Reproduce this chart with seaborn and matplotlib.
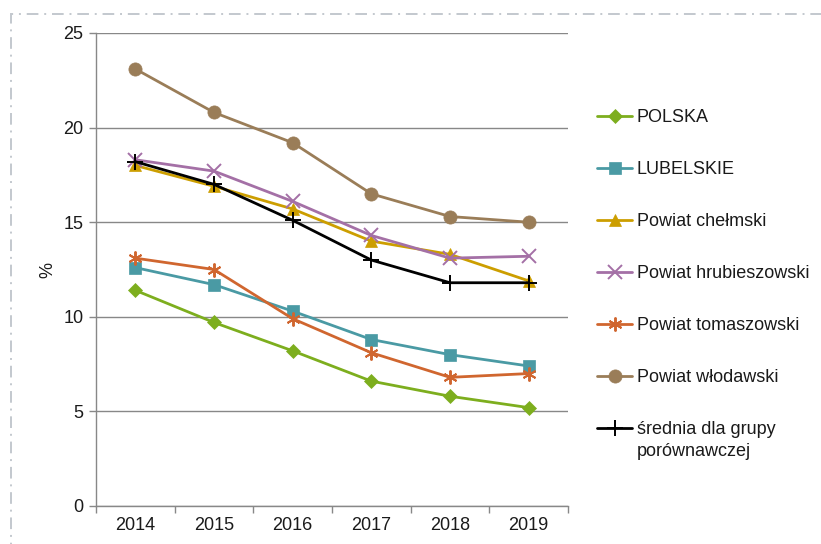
import matplotlib
matplotlib.use("Agg")
import matplotlib.pyplot as plt
import matplotlib.patches as mpatches
import seaborn as sns
import pandas as pd

# data
years = [2014, 2015, 2016, 2017, 2018, 2019]
polska = [11.4, 9.7, 8.2, 6.6, 5.8, 5.2]
lubelskie = [12.6, 11.7, 10.3, 8.8, 8.0, 7.4]
chelmski = [18.0, 16.9, 15.7, 14.0, 13.3, 11.9]
hrubieszowski = [18.3, 17.7, 16.1, 14.3, 13.1, 13.2]
tomaszowski = [13.1, 12.5, 9.9, 8.1, 6.8, 7.0]
wlodawski = [23.1, 20.8, 19.2, 16.5, 15.3, 15.0]
srednia = [18.2, 17.0, 15.1, 13.0, 11.8, 11.8]

labels = ["POLSKA", "LUBELSKIE", "Powiat chełmski", "Powiat hrubieszowski",
          "Powiat tomaszowski", "Powiat włodawski", "średnia dla grupy"]
label_cont = "porównawczej"   # second line of the last legend entry
series = [polska, lubelskie, chelmski, hrubieszowski, tomaszowski, wlodawski, srednia]

# styles
colors = ["#7DAE1E", "#4A9AA4", "#CC9E00", "#A470A6", "#D0662F", "#9A7D58", "#000000"]
markers = ["D", "s", "^", "x", (6, 2, 0), "o", "+"]
msizes = [7, 8.5, 9, 10, 10, 9.5, 11]

sns.set_theme(style="white")
plt.rcParams["font.family"] = ["Liberation Sans", "DejaVu Sans"]
FS = 13
TXT = "#1a1a1a"

fig = plt.figure(figsize=(8.21, 5.44), dpi=100)
ax = fig.add_axes([96 / 821, 1 - 506 / 544, (568 - 96) / 821, (506 - 33) / 544])

for lab, vals, c, m, ms in zip(labels, series, colors, markers, msizes):
    df = pd.DataFrame({"year": years, "value": vals})
    thin = m in ("x", "+") or isinstance(m, tuple)
    sns.lineplot(data=df, x="year", y="value", ax=ax, color=c, marker=m,
                 markersize=ms, linewidth=2.0, markeredgecolor=c,
                 markeredgewidth=1.4 if thin else 0.5,
                 label=lab, legend=False)

ax.set_xlim(years[0] - 0.5, years[-1] + 0.5)
ax.set_ylim(0, 25)
ax.set_yticks(range(0, 26, 5))
ax.set_xticks([y + 0.5 for y in [years[0] - 1] + years])
ax.set_xticklabels([])
ax.set_xticks(years, minor=True)
ax.set_xticklabels([str(y) for y in years], minor=True)
ax.tick_params(axis="x", which="major", length=5, width=1, color="#888888",
               direction="out", bottom=True)
ax.tick_params(axis="x", which="minor", length=0, labelsize=FS, pad=8, labelcolor=TXT)
ax.tick_params(axis="y", length=5, width=1, color="#888888", direction="out", left=True,
               labelsize=FS, pad=4, labelcolor=TXT)
ax.grid(axis="y", color="#888888", linewidth=1)
ax.grid(axis="x", visible=False)
ax.set_axisbelow(True)
for s in ["top", "right"]:
    ax.spines[s].set_visible(False)
for s in ["left", "bottom"]:
    ax.spines[s].set_color("#888888")
    ax.spines[s].set_linewidth(1)
ax.set_xlabel("")
ax.set_ylabel("%", fontsize=FS, color=TXT, labelpad=5)

handles, labs = ax.get_legend_handles_labels()
leg = fig.legend(handles, labs, loc="upper left", bbox_to_anchor=(590 / 821, 1 - 102 / 544),
                 frameon=False, fontsize=FS, labelspacing=1.94, handlelength=1.95,
                 handletextpad=0.25, borderaxespad=0, labelcolor=TXT)

# second line of the last legend label, placed right under the first one
fig.canvas.draw()
bb = leg.get_texts()[-1].get_window_extent().transformed(fig.transFigure.inverted())
fig.text(bb.x0, bb.y0 - 5 / 544, label_cont, fontsize=FS, color=TXT, va="top", ha="left")

# dash-dot frame around the chart
fig.add_artist(mpatches.Rectangle((11 / 821, -0.5), 2, 0.5 + 1 - 14 / 544,
                                  transform=fig.transFigure, fill=False,
                                  edgecolor="#C3C8CE", linewidth=1.4,
                                  linestyle=(0, (6, 3, 1, 3)), clip_on=False))

fig.savefig("out.png", dpi=100)
